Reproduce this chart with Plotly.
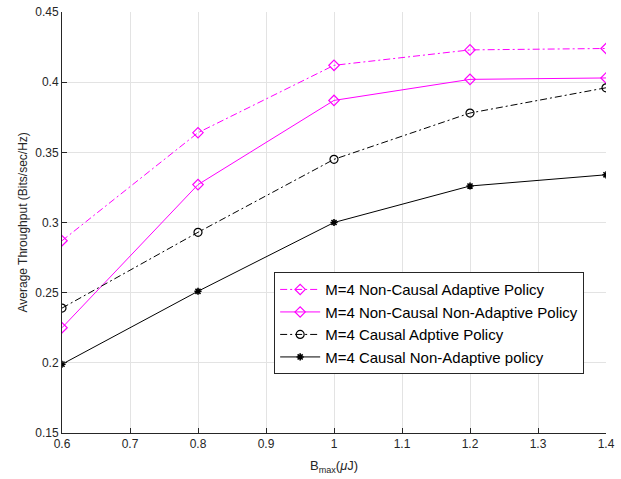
import plotly.graph_objects as go

b_max = [0.6, 0.8, 1.0, 1.2, 1.4]
nc_adaptive = [0.287, 0.364, 0.412, 0.423, 0.424]
nc_non_adaptive = [0.225, 0.327, 0.387, 0.402, 0.403]
causal_adaptive = [0.239, 0.293, 0.345, 0.378, 0.396]
causal_non_adaptive = [0.199, 0.251, 0.300, 0.326, 0.334]

names = [
    "M=4 Non-Causal Adaptive Policy",
    "M=4 Non-Causal Non-Adaptive Policy",
    "M=4 Causal Adptive Policy",
    "M=4 Causal Non-Adaptive policy",
]

x_ticks = [0.6, 0.7, 0.8, 0.9, 1.0, 1.1, 1.2, 1.3, 1.4]
x_tick_labels = ["0.6", "0.7", "0.8", "0.9", "1", "1.1", "1.2", "1.3", "1.4"]
y_ticks = [0.15, 0.2, 0.25, 0.3, 0.35, 0.4, 0.45]
y_tick_labels = ["0.15", "0.2", "0.25", "0.3", "0.35", "0.4", "0.45"]

MAG = "#ff00ff"
DASHDOT = "7px,3px,2px,3px"
FONT = "Liberation Sans, Arial, sans-serif"

fig = go.Figure()
fig.add_trace(go.Scatter(x=b_max, y=nc_adaptive, name=names[0], mode="lines+markers",
                         line=dict(color=MAG, width=1, dash=DASHDOT),
                         marker=dict(symbol="diamond-open", size=8, color=MAG, line=dict(width=1.2))))
fig.add_trace(go.Scatter(x=b_max, y=nc_non_adaptive, name=names[1], mode="lines+markers",
                         line=dict(color=MAG, width=1),
                         marker=dict(symbol="diamond-open", size=8, color=MAG, line=dict(width=1.2))))
fig.add_trace(go.Scatter(x=b_max, y=causal_adaptive, name=names[2], mode="lines+markers",
                         line=dict(color="black", width=1, dash=DASHDOT),
                         marker=dict(symbol="circle-open", size=8, color="black", line=dict(width=1.2))))
fig.add_trace(go.Scatter(x=b_max, y=causal_non_adaptive, name=names[3], mode="lines+markers",
                         line=dict(color="black", width=1),
                         marker=dict(symbol="asterisk-open", size=6, color="black", line=dict(width=1.6))))

axis_common = dict(showgrid=True, gridcolor="#e3e3e3", gridwidth=1, zeroline=False,
                   showline=True, linecolor="#262626", linewidth=1,
                   ticks="inside", ticklen=5, tickcolor="#262626", automargin=False,
                   ticklabeloverflow="allow",
                   tickfont=dict(family=FONT, size=12, color="#262626"))

fig.update_layout(
    width=621, height=479,
    margin=dict(l=62, r=15, t=12, b=46),
    paper_bgcolor="white", plot_bgcolor="white",
    font=dict(family=FONT, size=12, color="#262626"),
    xaxis=dict(range=[0.6, 1.4], tickvals=x_ticks, ticktext=x_tick_labels, **axis_common),
    yaxis=dict(range=[0.15, 0.45], tickvals=y_ticks, ticktext=y_tick_labels, **axis_common),
    legend=dict(x=0.39, y=0.382, xanchor="left", yanchor="top",
                bgcolor="white", bordercolor="#262626", borderwidth=1,
                font=dict(family=FONT, size=15, color="black"), tracegroupgap=0,
                itemwidth=40),
    showlegend=True,
)

fig.add_annotation(text="B<sub>max</sub>(<i>μ</i>J)", xref="paper", yref="paper",
                   x=0.5, y=0, yshift=-33, xanchor="center", yanchor="middle",
                   showarrow=False, font=dict(family=FONT, size=13, color="#262626"))
fig.add_annotation(text="Average Throughput (Bits/sec/Hz)", xref="paper", yref="paper",
                   x=0, y=0.5, xshift=-40, xanchor="center", yanchor="middle", textangle=-90,
                   showarrow=False, font=dict(family=FONT, size=12, color="#262626"))

# remove the default 8px page margin so the figure fills the 621x479 window exactly
fig.write_html("out.html",
               config={"displayModeBar": False},
               post_script="document.body.style.margin='0';document.body.style.overflow='hidden';")
